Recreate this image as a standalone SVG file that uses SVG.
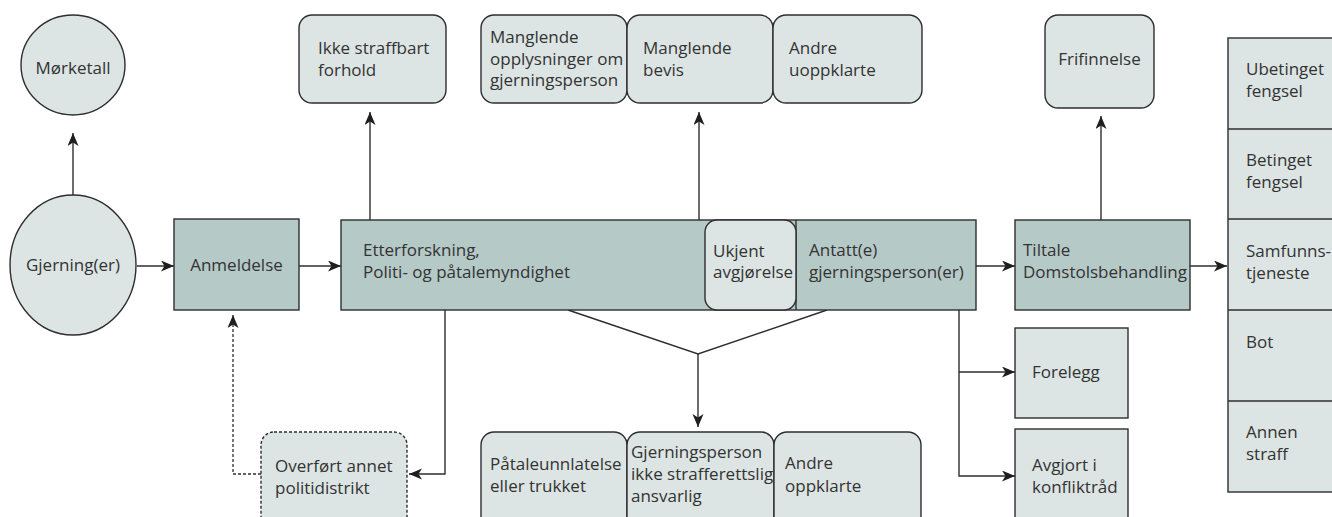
<svg xmlns="http://www.w3.org/2000/svg" width="1332" height="517" viewBox="0 0 1332 517">
<style>
text{font-family:"Open Sans","Noto Sans","Liberation Sans",sans-serif;font-size:17px;fill:#333333}
.dark{fill:#b5c9c7;stroke:#2e2e2e;stroke-width:1.4}
.light{fill:#dce5e3;stroke:#2e2e2e;stroke-width:1.4}
.dash{fill:#dce5e3;stroke:#2e2e2e;stroke-width:1.4;stroke-dasharray:3 2}
.c{fill:none;stroke:#2e2e2e;stroke-width:1.4}
.cd{fill:none;stroke:#2e2e2e;stroke-width:1.3;stroke-dasharray:3 2}
</style>
<defs>
<marker id="ah" markerUnits="userSpaceOnUse" markerWidth="15" markerHeight="13" refX="13" refY="5.5" orient="auto">
<path d="M0,0 L13,5.5 L0,11 L3.5,5.5 z" fill="#1e1e1e"/>
</marker>
</defs>
<rect width="1332" height="517" fill="#ffffff"/>

<g id="connectors">
<line class="c" x1="73" y1="195" x2="73" y2="133" marker-end="url(#ah)"/>
<line class="c" x1="137" y1="266" x2="174" y2="266" marker-end="url(#ah)"/>
<line class="c" x1="299" y1="266" x2="341" y2="266" marker-end="url(#ah)"/>
<line class="c" x1="370" y1="220" x2="370" y2="112" marker-end="url(#ah)"/>
<line class="c" x1="699" y1="220" x2="699" y2="112" marker-end="url(#ah)"/>
<polyline class="c" points="445,310 445,474 409,474" marker-end="url(#ah)"/>
<polyline class="cd" points="261,474 233,474 233,315" marker-end="url(#ah)"/>
<polyline class="c" points="568,310 698,354 827,310"/>
<line class="c" x1="698" y1="354" x2="698" y2="427" marker-end="url(#ah)"/>
<line class="c" x1="976" y1="266" x2="1015" y2="266" marker-end="url(#ah)"/>
<line class="c" x1="1101" y1="220" x2="1101" y2="116" marker-end="url(#ah)"/>
<line class="c" x1="1190" y1="266" x2="1227" y2="266" marker-end="url(#ah)"/>
<polyline class="c" points="959,310 959,476 1015,476" marker-end="url(#ah)"/>
<polyline class="c" points="959,372 1015,372" marker-end="url(#ah)"/>
</g>

<g id="morketall">
<ellipse class="light" cx="73" cy="65" rx="52" ry="50"/>
<text x="73" y="74" text-anchor="middle">Mørketall</text>
</g>
<g id="gjerning">
<ellipse class="light" cx="73" cy="265" rx="63" ry="70"/>
<text x="73" y="271" text-anchor="middle">Gjerning(er)</text>
</g>
<g id="anmeldelse">
<rect class="dark" x="174" y="219" width="125" height="91"/>
<text x="236.5" y="271" text-anchor="middle">Anmeldelse</text>
</g>
<g id="etterforskning">
<rect class="dark" x="341" y="220" width="635" height="90"/>
<text x="363" y="256">Etterforskning,</text>
<text x="363" y="278">Politi- og påtalemyndighet</text>
<line class="c" x1="796" y1="220" x2="796" y2="310"/>
<text x="809" y="256">Antatt(e)</text>
<text x="809" y="278">gjerningsperson(er)</text>
</g>
<g id="ukjent">
<rect class="light" x="705" y="220" width="91" height="90" rx="12"/>
<text x="713" y="257">Ukjent</text>
<text x="713" y="278">avgjørelse</text>
</g>
<g id="ikke-straffbart">
<rect class="light" x="299" y="15" width="147" height="88" rx="13"/>
<text x="318" y="54">Ikke straffbart</text>
<text x="318" y="76">forhold</text>
</g>
<g id="manglende-opplysninger">
<rect class="light" x="481" y="15" width="146" height="88" rx="13"/>
<text x="490" y="43">Manglende</text>
<text x="490" y="65">opplysninger om</text>
<text x="490" y="86">gjerningsperson</text>
</g>
<g id="manglende-bevis">
<rect class="light" x="627" y="15" width="146" height="88" rx="13"/>
<text x="643" y="54">Manglende</text>
<text x="643" y="76">bevis</text>
</g>
<g id="andre-uoppklarte">
<rect class="light" x="773" y="15" width="149" height="88" rx="13"/>
<text x="789" y="54">Andre</text>
<text x="789" y="76">uoppklarte</text>
</g>
<g id="overfort">
<rect class="dash" x="261" y="432" width="146" height="100" rx="13"/>
<text x="275" y="472">Overført annet</text>
<text x="275" y="494">politidistrikt</text>
</g>
<g id="pataleunnlatelse">
<rect class="light" x="481" y="432" width="146" height="100" rx="13"/>
<text x="490" y="470">Påtaleunnlatelse</text>
<text x="490" y="492">eller trukket</text>
</g>
<g id="ikke-strafferettslig">
<rect class="light" x="627" y="432" width="147" height="100" rx="13"/>
<text x="631" y="458">Gjerningsperson</text>
<text x="631" y="480">ikke strafferettslig</text>
<text x="631" y="502">ansvarlig</text>
</g>
<g id="andre-oppklarte">
<rect class="light" x="774" y="432" width="147" height="100" rx="13"/>
<text x="785" y="469">Andre</text>
<text x="785" y="492">oppklarte</text>
</g>
<g id="frifinnelse">
<rect class="light" x="1045" y="15" width="109" height="93" rx="13"/>
<text x="1099.5" y="65" text-anchor="middle">Frifinnelse</text>
</g>
<g id="tiltale">
<rect class="dark" x="1015" y="220" width="175" height="90"/>
<text x="1023" y="256">Tiltale</text>
<text x="1023" y="278">Domstolsbehandling</text>
</g>
<g id="forelegg">
<rect class="light" x="1015" y="328" width="113" height="90"/>
<text x="1032" y="378">Forelegg</text>
</g>
<g id="konfliktrad">
<rect class="light" x="1015" y="429" width="113" height="100"/>
<text x="1032" y="471">Avgjort i</text>
<text x="1032" y="493">konfliktråd</text>
</g>
<g id="straff">
<rect class="light" x="1228" y="38" width="120" height="454"/>
<line class="c" x1="1228" y1="129" x2="1340" y2="129"/>
<line class="c" x1="1228" y1="219" x2="1340" y2="219"/>
<line class="c" x1="1228" y1="310" x2="1340" y2="310"/>
<line class="c" x1="1228" y1="401" x2="1340" y2="401"/>
<text x="1246" y="75">Ubetinget</text>
<text x="1246" y="97">fengsel</text>
<text x="1246" y="166">Betinget</text>
<text x="1246" y="188">fengsel</text>
<text x="1246" y="257">Samfunns-</text>
<text x="1246" y="279">tjeneste</text>
<text x="1246" y="348">Bot</text>
<text x="1246" y="438">Annen</text>
<text x="1246" y="460">straff</text>
</g>
</svg>
